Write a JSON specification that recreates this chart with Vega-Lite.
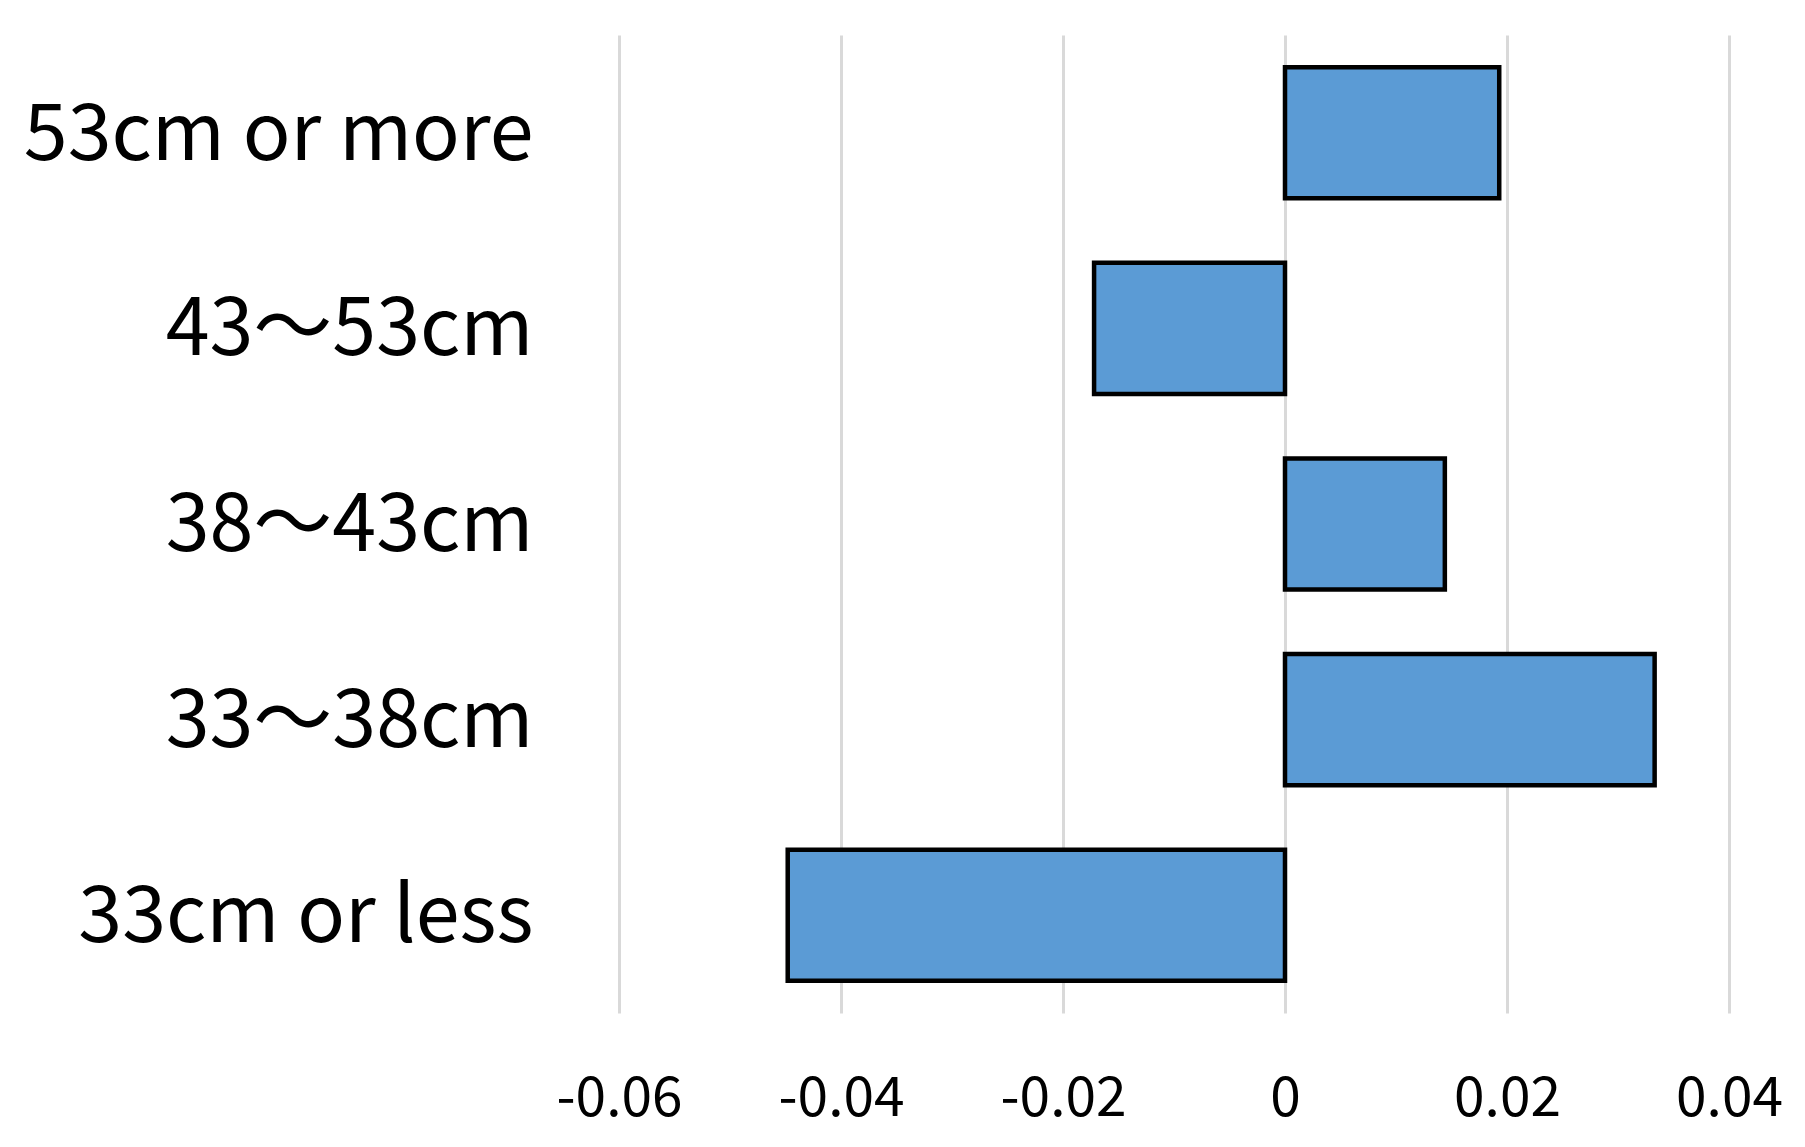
{
  "$schema": "https://vega.github.io/schema/vega-lite/v6.json",
  "autosize": "none",
  "padding": {"left": 619, "top": 35, "right": 76, "bottom": 134},
  "width": 1110,
  "height": 978,
  "background": "white",
  "config": {"view": {"stroke": null}},
  "data": {
    "values": [
      {"category": "53cm or more", "value": 0.0193},
      {"category": "43〜53cm", "value": -0.0172},
      {"category": "38〜43cm", "value": 0.0144},
      {"category": "33〜38cm", "value": 0.0333},
      {"category": "33cm or less", "value": -0.0448}
    ]
  },
  "mark": {"type": "bar", "fill": "#5B9BD5", "stroke": "#000000", "strokeWidth": 4.5},
  "encoding": {
    "y": {
      "field": "category",
      "type": "nominal",
      "sort": null,
      "scale": {"paddingInner": 0.33, "paddingOuter": 0.165},
      "axis": {
        "title": null,
        "domain": false,
        "ticks": false,
        "tickSize": 0,
        "grid": false,
        "labelFont": "Noto Sans CJK JP",
        "labelFontSize": 79,
        "labelColor": "#000000",
        "labelPadding": 86,
        "labelOffset": 3,
        "labelLimit": 1000
      }
    },
    "x": {
      "field": "value",
      "type": "quantitative",
      "scale": {"domain": [-0.06, 0.04], "nice": false, "zero": false},
      "axis": {
        "title": null,
        "domain": false,
        "ticks": false,
        "tickSize": 0,
        "values": [-0.06, -0.04, -0.02, 0, 0.02, 0.04],
        "labelExpr": "'' + datum.value",
        "grid": true,
        "gridColor": "#D9D9D9",
        "gridWidth": 3,
        "labelFont": "Noto Sans CJK JP",
        "labelFontSize": 55,
        "labelColor": "#000000",
        "labelPadding": 59,
        "labelFlush": false,
        "labelOverlap": false
      }
    }
  }
}
